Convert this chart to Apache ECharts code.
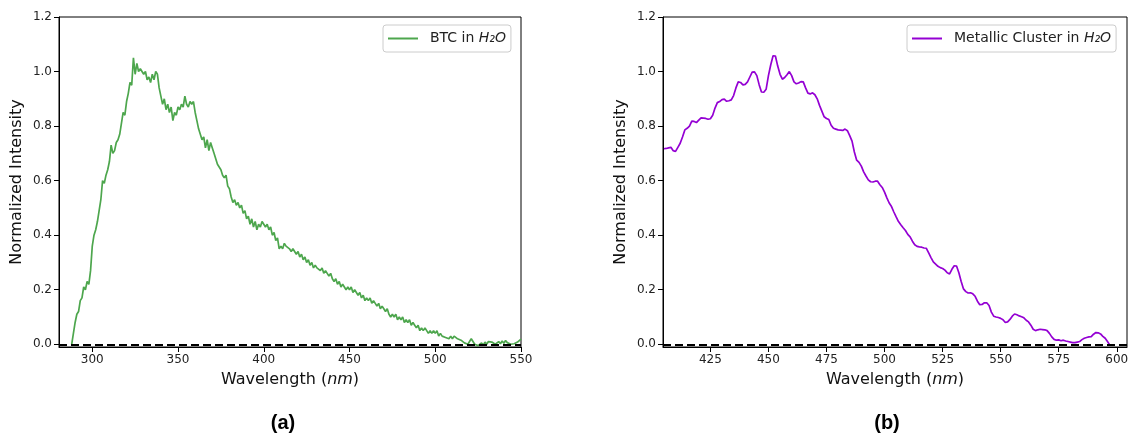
<!DOCTYPE html>
<html>
<head>
<meta charset="utf-8">
<script src="https://cdn.jsdelivr.net/npm/echarts@6/dist/echarts.min.js"></script>
<style>html,body{margin:0;padding:0;background:#fff}#c{width:1128px;height:438px}</style>
</head>
<body>
<div id="c"></div>
<script>
// ---- Panel (a): BTC in H2O ----
const btcWavelength = [288,289,290,291,292,293,294,295,296,297,298,299,300,301,302,303,304,305,306,307,308,309,310,311,312,313,314,315,316,317,318,319,320,321,322,323,324,325,326,327,328,329,330,331,332,333,334,335,336,337,338,339,340,341,342,343,344,345,346,347,348,349,350,351,352,353,354,355,356,357,358,359,360,361,362,363,364,365,366,367,368,369,370,371,372,373,374,375,376,377,378,379,380,381,382,383,384,385,386,387,388,389,390,391,392,393,394,395,396,397,398,399,400,401,402,403,404,405,406,407,408,409,410,411,412,413,414,415,416,417,418,419,420,421,422,423,424,425,426,427,428,429,430,431,432,433,434,435,436,437,438,439,440,441,442,443,444,445,446,447,448,449,450,451,452,453,454,455,456,457,458,459,460,461,462,463,464,465,466,467,468,469,470,471,472,473,474,475,476,477,478,479,480,481,482,483,484,485,486,487,488,489,490,491,492,493,494,495,496,497,498,499,500,501,502,503,504,505,506,507,508,509,510,511,512,513,514,515,516,517,518,519,520,521,522,523,524,525,526,527,528,529,530,531,532,533,534,535,536,537,538,539,540,541,542,543,544,545,546,547,548,549,550];
const btcIntensity = [0.00,0.04,0.08,0.11,0.12,0.16,0.17,0.21,0.20,0.23,0.22,0.27,0.36,0.40,0.42,0.45,0.49,0.53,0.60,0.59,0.62,0.64,0.67,0.73,0.70,0.71,0.74,0.75,0.77,0.81,0.85,0.84,0.89,0.92,0.96,0.95,1.05,0.99,1.03,1.00,1.01,1.01,0.99,1.00,0.97,0.98,0.96,0.99,0.97,1.00,0.99,0.94,0.91,0.88,0.90,0.86,0.88,0.85,0.87,0.82,0.85,0.84,0.87,0.86,0.88,0.87,0.91,0.88,0.87,0.89,0.88,0.89,0.85,0.82,0.79,0.77,0.75,0.76,0.72,0.75,0.71,0.74,0.72,0.70,0.68,0.66,0.65,0.64,0.62,0.61,0.62,0.58,0.57,0.54,0.52,0.53,0.51,0.52,0.50,0.51,0.48,0.49,0.46,0.47,0.44,0.46,0.43,0.45,0.42,0.44,0.43,0.45,0.44,0.43,0.44,0.42,0.43,0.40,0.41,0.38,0.39,0.35,0.36,0.35,0.37,0.36,0.36,0.35,0.34,0.35,0.34,0.33,0.34,0.32,0.33,0.31,0.32,0.30,0.31,0.29,0.30,0.28,0.29,0.28,0.28,0.27,0.28,0.26,0.27,0.26,0.25,0.26,0.24,0.23,0.24,0.22,0.23,0.21,0.22,0.21,0.20,0.21,0.20,0.21,0.19,0.20,0.19,0.18,0.19,0.17,0.18,0.16,0.17,0.16,0.17,0.15,0.16,0.15,0.14,0.15,0.13,0.14,0.13,0.12,0.13,0.11,0.10,0.11,0.10,0.11,0.09,0.10,0.09,0.10,0.08,0.09,0.08,0.09,0.07,0.08,0.07,0.06,0.07,0.05,0.06,0.05,0.06,0.05,0.04,0.05,0.04,0.05,0.04,0.05,0.03,0.04,0.03,0.035,0.025,0.03,0.02,0.03,0.02,0.03,0.025,0.02,0.025,0.015,0.01,0.005,0.01,0.00,0.01,0.02,0.01,0.00,0.005,-0.005,0.00,0.005,-0.003,0.008,0.00,0.01,0.003,0.008,0.01,0.00,0.006,0.01,0.002,0.012,0.004,0.014,0.006,0.01,0.0,-0.004,0.002,-0.005,0.008,0.015,0.019];

// ---- Panel (b): Metallic Cluster in H2O ----
const clusterWavelength = [405,406,407,408,409,410,411,412,413,414,415,416,417,418,419,420,421,422,423,424,425,426,427,428,429,430,431,432,433,434,435,436,437,438,439,440,441,442,443,444,445,446,447,448,449,450,451,452,453,454,455,456,457,458,459,460,461,462,463,464,465,466,467,468,469,470,471,472,473,474,475,476,477,478,479,480,481,482,483,484,485,486,487,488,489,490,491,492,493,494,495,496,497,498,499,500,501,502,503,504,505,506,507,508,509,510,511,512,513,514,515,516,517,518,519,520,521,522,523,524,525,526,527,528,529,530,531,532,533,534,535,536,537,538,539,540,541,542,543,544,545,546,547,548,549,550,551,552,553,554,555,556,557,558,559,560,561,562,563,564,565,566,567,568,569,570,571,572,573,574,575,576,577,578,579,580,581,582,583,584,585,586,587,588,589,590,591,592,593,594,595,596,597];
const clusterIntensity = [0.717,0.718,0.720,0.722,0.710,0.707,0.722,0.737,0.760,0.786,0.792,0.800,0.818,0.817,0.813,0.822,0.830,0.829,0.828,0.825,0.827,0.840,0.866,0.886,0.890,0.897,0.899,0.891,0.893,0.896,0.912,0.940,0.962,0.960,0.951,0.953,0.962,0.980,0.998,0.999,0.985,0.952,0.925,0.924,0.935,0.985,1.025,1.058,1.057,1.020,0.990,0.972,0.978,0.988,1.000,0.985,0.962,0.955,0.958,0.963,0.962,0.940,0.921,0.918,0.922,0.915,0.900,0.876,0.855,0.834,0.828,0.824,0.803,0.792,0.789,0.786,0.785,0.784,0.789,0.783,0.765,0.745,0.705,0.675,0.667,0.653,0.632,0.617,0.603,0.596,0.595,0.598,0.598,0.585,0.575,0.558,0.537,0.518,0.505,0.485,0.467,0.450,0.438,0.427,0.417,0.403,0.394,0.378,0.365,0.359,0.357,0.356,0.353,0.352,0.335,0.318,0.302,0.294,0.286,0.281,0.278,0.272,0.262,0.258,0.275,0.288,0.287,0.262,0.230,0.203,0.193,0.188,0.189,0.185,0.176,0.158,0.145,0.146,0.152,0.152,0.142,0.118,0.103,0.100,0.098,0.095,0.090,0.080,0.082,0.091,0.103,0.111,0.108,0.104,0.101,0.097,0.088,0.082,0.070,0.055,0.050,0.053,0.055,0.054,0.053,0.050,0.040,0.027,0.018,0.015,0.016,0.013,0.015,0.012,0.010,0.008,0.006,0.006,0.008,0.010,0.017,0.022,0.025,0.027,0.028,0.037,0.043,0.042,0.038,0.029,0.022,0.010,-0.003];

// ---- Ticks / labels ----
const xTicksA = [300,350,400,450,500,550];
const xTicksB = [425,450,475,500,525,550,575,600];
const yTicks = [0,0.2,0.4,0.6,0.8,1.0,1.2];
const seriesNames = ['BTC in H2O', 'Metallic Cluster in H2O'];
const legendLabels = ['BTC in {i|H₂O}', 'Metallic Cluster in {i|H₂O}'];
const panelLabels = ['(a)', '(b)'];
const xTitle = 'Wavelength ({i|nm})';
const yTitle = 'Normalized Intensity';

const FONT = '"DejaVu Sans", sans-serif';
const colors = ['#4da64d', '#9400d3'];

function pairs(xs, ys) { return xs.map((x, i) => [x, ys[i]]); }

function xAxisCfg(idx, min, max, ticks) {
  return {
    type: 'value', gridIndex: idx, min: min, max: max,
    axisLine: { show: true, onZero: false, lineStyle: { color: '#000', width: 1 } },
    axisTick: { show: true, customValues: ticks, length: 5, inside: false, lineStyle: { color: '#000', width: 1 } },
    axisLabel: { customValues: ticks, fontSize: 12, fontFamily: FONT, color: '#222', margin: 7 },
    splitLine: { show: false },
    name: xTitle, nameLocation: 'middle', nameGap: 25,
    nameTextStyle: { fontSize: 16, fontFamily: FONT, color: '#111',
      rich: { i: { fontSize: 16, fontFamily: FONT, fontStyle: 'italic', color: '#111' } } }
  };
}
function yAxisCfg(idx) {
  return {
    type: 'value', gridIndex: idx, min: -0.01, max: 1.2,
    axisLine: { show: true, onZero: false, lineStyle: { color: '#000', width: 1 } },
    axisTick: { show: true, customValues: yTicks, length: 5, inside: false, lineStyle: { color: '#000', width: 1 } },
    axisLabel: { customValues: yTicks, fontSize: 12, fontFamily: FONT, color: '#222', margin: 7,
      formatter: v => Number(v).toFixed(1) },
    splitLine: { show: false },
    name: yTitle, nameLocation: 'middle', nameGap: 34, nameRotate: 90,
    nameTextStyle: { fontSize: 16, fontFamily: FONT, color: '#111' }
  };
}
function lineSeries(i, data) {
  return {
    type: 'line', name: seriesNames[i], xAxisIndex: i, yAxisIndex: i,
    data: data, showSymbol: false, symbol: 'none', clip: true,
    lineStyle: { color: colors[i], width: 1.7 }, itemStyle: { color: colors[i] },
    markLine: { silent: true, symbol: 'none', label: { show: false },
      lineStyle: { color: '#000', type: [8, 4], width: 2.2 }, data: [{ yAxis: 0 }] }
  };
}
function legendCfg(i, left) {
  return {
    data: [seriesNames[i]], left: left, top: 25, orient: 'horizontal',
    icon: 'rect', itemWidth: 30, itemHeight: 2,
    formatter: () => legendLabels[i],
    textStyle: { fontSize: 14, fontFamily: FONT, color: '#222', padding: [0, 0, 0, 7], lineHeight: 15,
      rich: { i: { fontSize: 14, fontFamily: FONT, fontStyle: 'italic', color: '#222', lineHeight: 15 } } },
    backgroundColor: 'rgba(255,255,255,0.8)', borderColor: '#cccccc', borderWidth: 1, borderRadius: 3,
    padding: [6, 5, 6, 5], selectedMode: false
  };
}

const chart = echarts.init(document.getElementById('c'), null, { renderer: 'canvas' });
chart.setOption({
  animation: false,
  backgroundColor: '#fff',
  grid: [
    { left: 59, top: 17, width: 462, height: 330, show: true, borderColor: '#000', borderWidth: 1, backgroundColor: 'transparent', outerBoundsMode: 'none' },
    { left: 663, top: 17, width: 464, height: 330, show: true, borderColor: '#000', borderWidth: 1, backgroundColor: 'transparent', outerBoundsMode: 'none' }
  ],
  xAxis: [ xAxisCfg(0, 280.6, 550, xTicksA), xAxisCfg(1, 404.6, 604.4, xTicksB) ],
  yAxis: [ yAxisCfg(0), yAxisCfg(1) ],
  legend: [ legendCfg(0, 383), legendCfg(1, 907) ],
  series: [ lineSeries(0, pairs(btcWavelength, btcIntensity)), lineSeries(1, pairs(clusterWavelength, clusterIntensity)) ],
  graphic: [
    { type: 'text', x: 283, y: 423, style: { text: panelLabels[0], fontSize: 20, fontWeight: 'bold', fontFamily: '"Liberation Sans", Arial, sans-serif', fill: '#000', align: 'center', verticalAlign: 'middle' } },
    { type: 'text', x: 887, y: 423, style: { text: panelLabels[1], fontSize: 20, fontWeight: 'bold', fontFamily: '"Liberation Sans", Arial, sans-serif', fill: '#000', align: 'center', verticalAlign: 'middle' } }
  ]
});
</script>
</body>
</html>
